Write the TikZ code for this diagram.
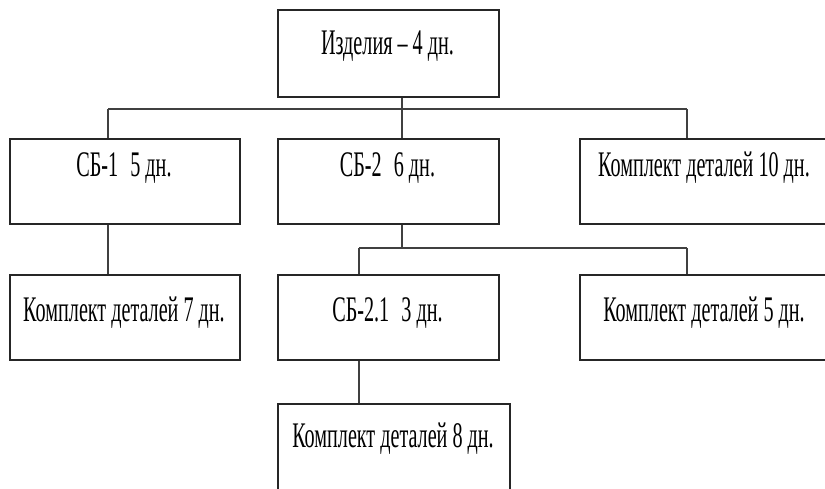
\documentclass[tikz,border=0pt]{standalone}
\usepackage{fontspec}
\setmainfont{Liberation Serif}
% condensed lettering used in all boxes
\newcommand{\narrow}[1]{\scalebox{0.56}[1]{#1}}
\begin{document}
\begin{tikzpicture}[x=1pt,y=-1pt,
  box/.style={draw=black!85, line width=1.6pt, inner sep=0pt, anchor=north west},
  lbl/.style={font=\fontsize{36}{40}\selectfont, inner sep=0pt, anchor=base},
  wire/.style={draw=black!75, line width=1.2pt}]
\useasboundingbox (0,0) rectangle (825,488);
\clip (0,0) rectangle (825,488);

% boxes
\node[box, minimum width=221pt, minimum height=87pt] (top) at (277,9) {};
\node[box, minimum width=230pt, minimum height=85pt] (sb1) at (9,138) {};
\node[box, minimum width=221pt, minimum height=85pt] (sb2) at (277,138) {};
\node[box, minimum width=251pt, minimum height=85pt] (kd10) at (579,138) {};
\node[box, minimum width=230pt, minimum height=85pt] (kd7) at (9,274) {};
\node[box, minimum width=221pt, minimum height=85pt] (sb21) at (277,274) {};
\node[box, minimum width=251pt, minimum height=85pt] (kd5) at (579,274) {};
\node[box, minimum width=232pt, minimum height=95pt] (kd8) at (277,403) {};

% labels
\node[lbl] (t0) at (387.5,54) {\narrow{Изделия – 4 дн.}};
\node[lbl] (t1) at (124,176) {\narrow{СБ-1\hspace{0.6em}5 дн.}};
\node[lbl] (t2) at (387.5,176) {\narrow{СБ-2\hspace{0.6em}6 дн.}};
\node[lbl] (t3) at (704,176) {\narrow{Комплект деталей 10 дн.}};
\node[lbl] (t4) at (124,321) {\narrow{Комплект деталей 7 дн.}};
\node[lbl] (t5) at (387.5,321) {\narrow{СБ-2.1\hspace{0.6em}3 дн.}};
\node[lbl] (t6) at (704,321) {\narrow{Комплект деталей 5 дн.}};
\node[lbl] (t7) at (393,447) {\narrow{Комплект деталей 8 дн.}};

% bus junctions
\coordinate (j0) at (402,109);
\coordinate (jl) at (108,109);
\coordinate (jr) at (687,109);
\coordinate (j1) at (402,248);
\coordinate (j1l) at (359,248);
\coordinate (j1r) at (687,248);

% connectors
\draw[wire] (j0 |- top.south) -- (j0);
\draw[wire] (jl) -- (jr);
\draw[wire] (jl) -- (jl |- sb1.north);
\draw[wire] (j0) -- (j0 |- sb2.north);
\draw[wire] (jr) -- (jr |- kd10.north);
\draw[wire] (jl |- sb1.south) -- (jl |- kd7.north);
\draw[wire] (j1 |- sb2.south) -- (j1);
\draw[wire] (j1l) -- (j1r);
\draw[wire] (j1l) -- (j1l |- sb21.north);
\draw[wire] (j1r) -- (j1r |- kd5.north);
\draw[wire] (j1l |- sb21.south) -- (j1l |- kd8.north);
\end{tikzpicture}
\end{document}
